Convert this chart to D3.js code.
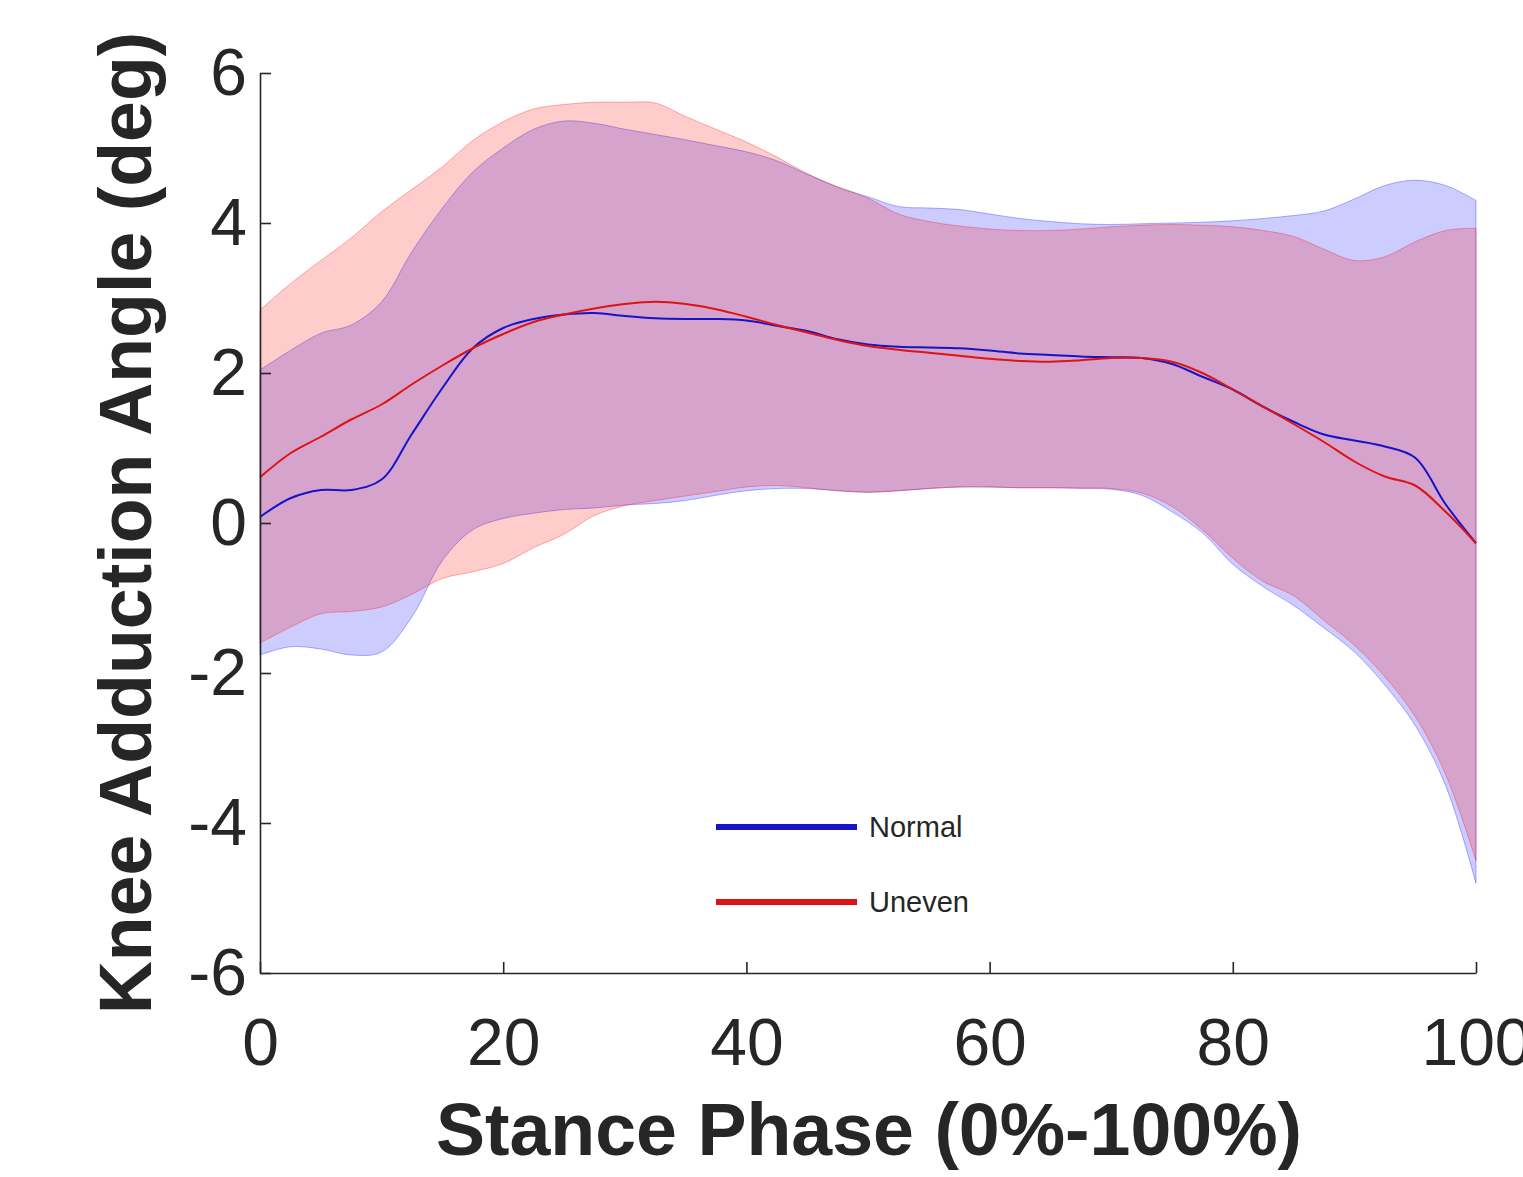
<!DOCTYPE html>
<html>
<head>
<meta charset="utf-8">
<script src="https://cdn.jsdelivr.net/npm/d3@7"></script>
<style>
  body { margin: 0; background: #fff; }
  svg { display: block; }
  text { font-family: "Liberation Sans", Arial, sans-serif; fill: #262626; }
</style>
</head>
<body>
<div id="chart"></div>
<script>
// stance phase (%)
const stance = [0, 2.5, 5, 7.5, 10, 12.5, 15, 17.5, 20, 22.5, 25, 27.5, 30, 32.5, 35, 37.5, 40,
  42.5, 45, 47.5, 50, 52.5, 55, 57.5, 60, 62.5, 65, 67.5, 70, 72.5, 75, 77.5, 80, 82.5, 85,
  87.5, 90, 92.5, 95, 97.5, 100];

// Normal walking: mean and +/- SD band
const normalMean = [0.08, 0.33, 0.44, 0.44, 0.58, 1.19, 1.8, 2.33, 2.6, 2.72, 2.78, 2.8, 2.76,
  2.73, 2.72, 2.72, 2.7, 2.63, 2.56, 2.45, 2.38, 2.35, 2.34, 2.33, 2.3, 2.26, 2.24, 2.22, 2.21,
  2.2, 2.12, 1.95, 1.78, 1.55, 1.35, 1.18, 1.1, 1.02, 0.87, 0.25, -0.27];
const normalUpper = [2.04, 2.3, 2.53, 2.64, 2.95, 3.62, 4.2, 4.68, 5.0, 5.25, 5.36, 5.33, 5.25,
  5.18, 5.11, 5.03, 4.95, 4.83, 4.65, 4.48, 4.35, 4.22, 4.2, 4.18, 4.12, 4.06, 4.02, 3.99, 3.98,
  3.99, 4.0, 4.01, 4.03, 4.06, 4.1, 4.16, 4.32, 4.5, 4.57, 4.5, 4.3];
const normalLower = [-1.76, -1.65, -1.68, -1.76, -1.72, -1.25, -0.5, -0.09, 0.06, 0.13, 0.18,
  0.2, 0.24, 0.26, 0.3, 0.37, 0.43, 0.46, 0.46, 0.43, 0.41, 0.43, 0.46, 0.48, 0.48, 0.47, 0.47,
  0.46, 0.45, 0.37, 0.15, -0.13, -0.55, -0.85, -1.1, -1.4, -1.72, -2.16, -2.7, -3.5, -4.8];

// Uneven walking: mean and +/- SD band
const unevenMean = [0.61, 0.93, 1.15, 1.38, 1.58, 1.85, 2.1, 2.33, 2.52, 2.68, 2.78, 2.86, 2.92,
  2.95, 2.92, 2.85, 2.75, 2.64, 2.54, 2.44, 2.36, 2.31, 2.27, 2.23, 2.19, 2.16, 2.15, 2.17, 2.2,
  2.2, 2.15, 2.0, 1.78, 1.55, 1.32, 1.08, 0.82, 0.62, 0.5, 0.15, -0.27];
const unevenUpper = [2.84, 3.19, 3.5, 3.8, 4.15, 4.45, 4.75, 5.1, 5.35, 5.52, 5.58, 5.61, 5.61,
  5.6, 5.42, 5.25, 5.08, 4.88, 4.66, 4.48, 4.33, 4.12, 4.02, 3.96, 3.92, 3.9, 3.9, 3.92, 3.95,
  3.97, 3.98, 3.97, 3.95, 3.9, 3.82, 3.65, 3.5, 3.55, 3.75, 3.9, 3.93];
const unevenLower = [-1.6, -1.39, -1.21, -1.18, -1.12, -0.95, -0.74, -0.65, -0.54, -0.33, -0.15,
  0.1, 0.23, 0.3, 0.36, 0.42, 0.48, 0.5, 0.47, 0.43, 0.41, 0.43, 0.46, 0.48, 0.48, 0.47, 0.47,
  0.47, 0.46, 0.4, 0.22, -0.09, -0.47, -0.78, -0.97, -1.3, -1.63, -2.05, -2.58, -3.35, -4.5];

const xTicks = [0, 20, 40, 60, 80, 100];
const yTicks = [-6, -4, -2, 0, 2, 4, 6];

const width = 1523;
const height = 1177;

const svg = d3.select("#chart").append("svg")
    .attr("width", width)
    .attr("height", height);

const x = d3.scaleLinear().domain([0, 100]).range([260, 1476]);
const y = d3.scaleLinear().domain([-6, 6]).range([973, 73]);

const groups = [
  { name: "Normal", color: "#1414c8", fill: "rgb(0,0,255)", mean: normalMean, upper: normalUpper, lower: normalLower },
  { name: "Uneven", color: "#dc1414", fill: "rgb(255,0,0)", mean: unevenMean, upper: unevenUpper, lower: unevenLower }
];

const curve = d3.curveCatmullRom.alpha(0.5);

// SD bands
groups.forEach(g => {
  const area = d3.area()
      .x((d, i) => x(stance[i]))
      .y0((d, i) => y(g.lower[i]))
      .y1((d, i) => y(g.upper[i]))
      .curve(curve);
  svg.append("path")
      .datum(stance)
      .attr("d", area)
      .attr("fill", g.fill)
      .attr("fill-opacity", 0.2)
      .attr("stroke", g.fill)
      .attr("stroke-opacity", 0.3)
      .attr("stroke-width", 1);
});

// mean lines
groups.forEach(g => {
  const line = d3.line()
      .x((d, i) => x(stance[i]))
      .y((d, i) => y(g.mean[i]))
      .curve(curve);
  svg.append("path")
      .datum(stance)
      .attr("d", line)
      .attr("fill", "none")
      .attr("stroke", g.color)
      .attr("stroke-width", 2);
});

// axes (ticks point inward, no box)
const fmt = d => String(d);
const xAxis = svg.append("g")
    .attr("transform", `translate(0,${y(-6)})`)
    .call(d3.axisBottom(x).tickValues(xTicks).tickFormat(fmt)
      .tickSizeInner(-11).tickSizeOuter(0).tickPadding(45));
const yAxis = svg.append("g")
    .attr("transform", `translate(${x(0)},0)`)
    .call(d3.axisLeft(y).tickValues(yTicks).tickFormat(fmt)
      .tickSizeInner(-11).tickSizeOuter(0).tickPadding(13));

[xAxis, yAxis].forEach(a => {
  a.select(".domain").attr("stroke", "#262626").attr("stroke-width", 1.6);
  a.selectAll(".tick line").attr("stroke", "#262626").attr("stroke-width", 1.6);
  a.selectAll(".tick text")
      .attr("font-size", 66)
      .attr("font-family", "Liberation Sans, Arial, sans-serif")
      .attr("fill", "#262626");
});

// axis titles
svg.append("text")
    .attr("x", 869)
    .attr("y", 1155)
    .attr("text-anchor", "middle")
    .attr("font-size", 73.5)
    .attr("font-weight", "bold")
    .text("Stance Phase (0%-100%)");

svg.append("text")
    .attr("transform", "translate(151,523) rotate(-90)")
    .attr("text-anchor", "middle")
    .attr("font-size", 73.5)
    .attr("font-weight", "bold")
    .text("Knee Adduction Angle (deg)");

// legend
const legend = svg.append("g");
groups.forEach((g, i) => {
  const ly = 827 + i * 75;
  legend.append("line")
      .attr("x1", 716).attr("x2", 857)
      .attr("y1", ly).attr("y2", ly)
      .attr("stroke", g.color)
      .attr("stroke-width", 6);
  legend.append("text")
      .attr("x", 869)
      .attr("y", ly)
      .attr("dy", "0.35em")
      .attr("font-size", 29)
      .text(g.name);
});
</script>
</body>
</html>
